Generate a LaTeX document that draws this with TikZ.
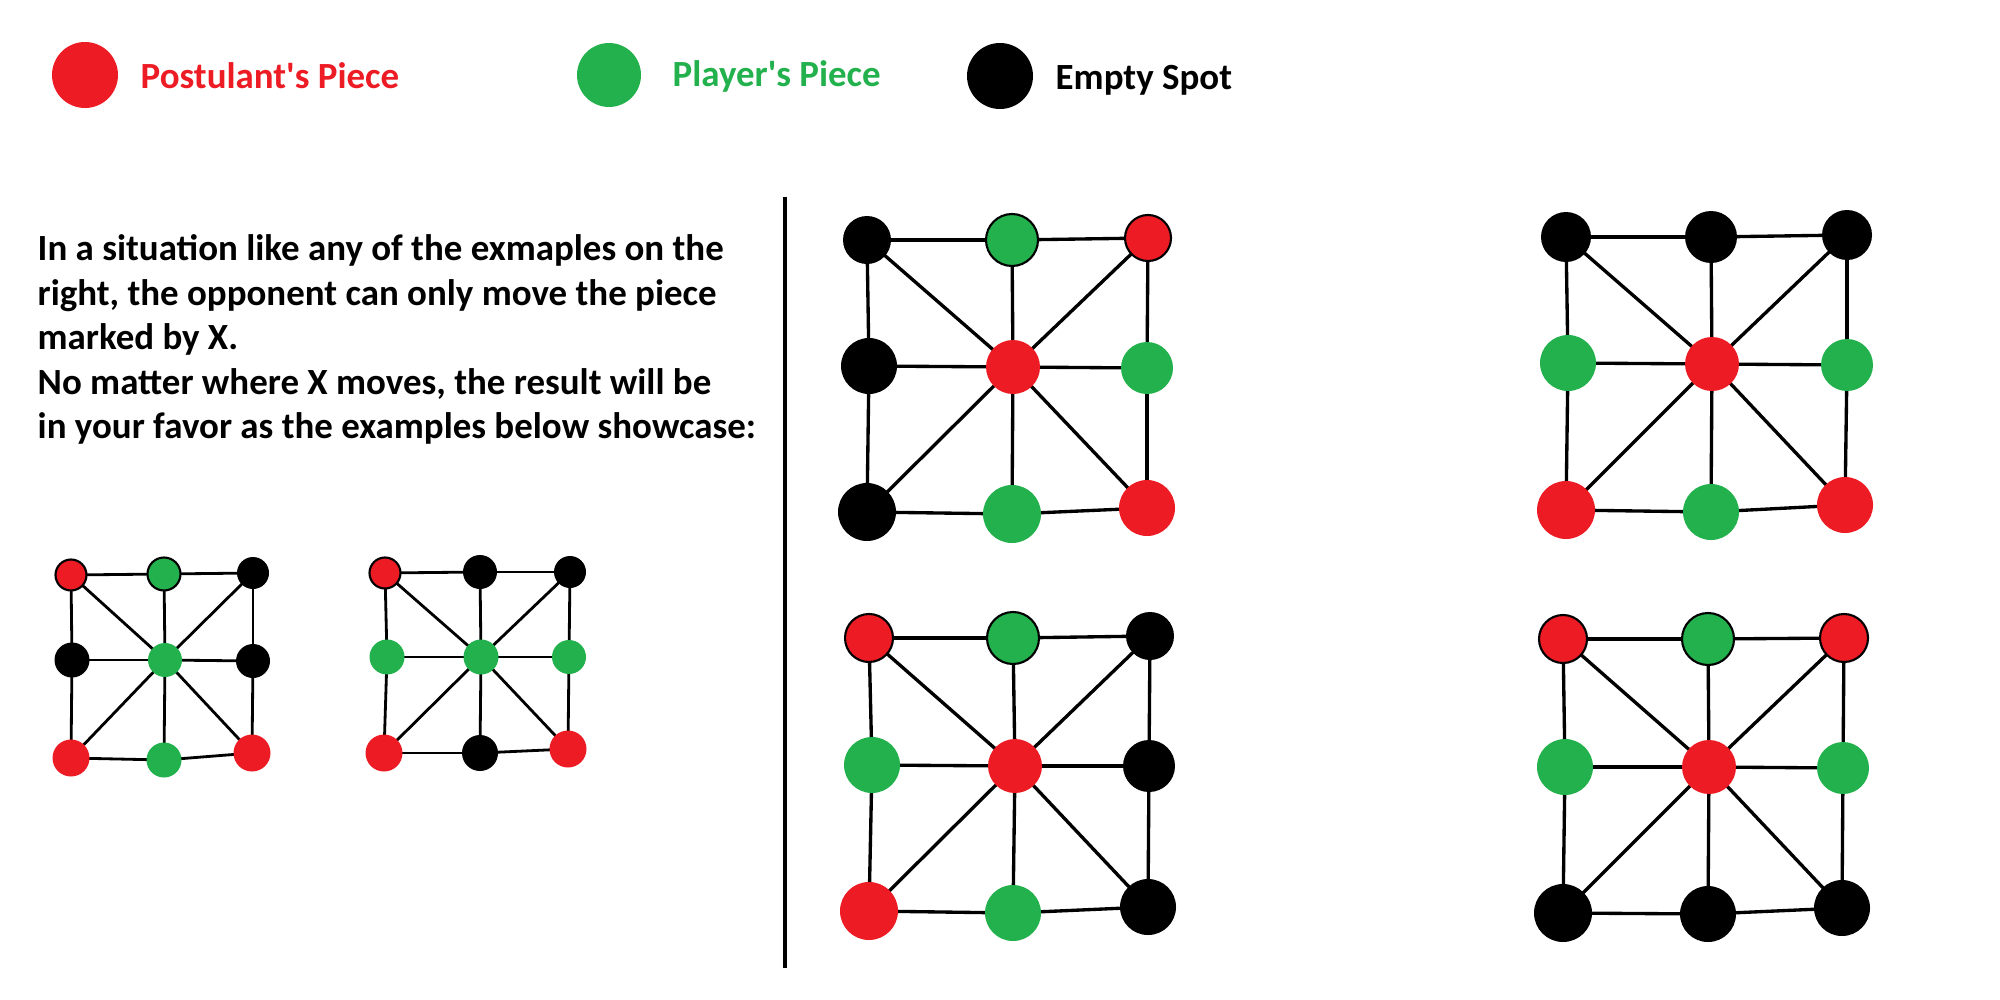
\documentclass[tikz,border=0pt]{standalone}
\usepackage{fontspec}
\setmainfont{Carlito}
\usetikzlibrary{backgrounds}
\definecolor{pred}{RGB}{237,28,36}
\definecolor{pgreen}{RGB}{34,177,76}
\newcommand{\boardedges}[2]{%
  \foreach \a/\b in {tl/tm,tm/tr,ml/c,c/mr,bl/bm,bm/br,tl/ml,ml/bl,tm/c,c/bm,tr/mr,mr/br,tl/c,c/br,tr/c,c/bl}
    {\draw[#2] (#1\a.center) -- (#1\b.center);}}
\begin{document}
\begin{tikzpicture}[x=0.01cm,y=-0.01cm,
  pc/.style={circle,inner sep=0pt,draw=none,minimum size=#1*0.01cm},
  R/.style={pc=#1,fill=pred},
  G/.style={pc=#1,fill=pgreen},
  K/.style={pc=#1,fill=black},
  ol/.style={draw=black,line width=0.6pt},
  edge/.style={line width=0.95pt,black},
  sedge/.style={line width=0.8pt,black},
  txt/.style={font=\fontsize{10.5pt}{12pt}\selectfont\bfseries,anchor=base west,inner sep=0pt}]
\useasboundingbox (0,0) rectangle (2000,1000);

% legend
\node[R=66] (legR) at (85,75) {};
\node[txt,text=pred] (legRt) at (140,88) {Postulant\textquotesingle s Piece};
\node[G=64] (legG) at (609,75) {};
\node[txt,text=pgreen] (legGt) at (672,87) {Player\textquotesingle s Piece};
\node[K=66] (legK) at (1000,76) {};
\node[txt,text=black] (legKt) at (1055,89) {Empty Spot};

% explanation
\node[txt] (p1) at (37,260) {In a situation like any of the exmaples on the};
\node[txt] (p2) at (37,305) {right, the opponent can only move the piece};
\node[txt] (p3) at (37,349) {marked by X.};
\node[txt] (p4) at (37,394) {No matter where X moves, the result will be};
\node[txt] (p5) at (37,438) {in your favor as the examples below showcase:};

% divider
\coordinate (divtop) at (785,197);
\coordinate (divbot) at (785,968);
\draw[line width=1.3pt] (divtop) -- (divbot);

% Board A (top-left big)
\node[K=48] (Atl) at (867,240) {};
\node[G=52,ol] (Atm) at (1012,240) {};
\node[R=46,ol] (Atr) at (1148,238) {};
\node[K=56] (Aml) at (869,366) {};
\node[R=54] (Ac) at (1013,367) {};
\node[G=52] (Amr) at (1147,368) {};
\node[K=58] (Abl) at (867,512) {};
\node[G=58] (Abm) at (1012,514) {};
\node[R=56] (Abr) at (1147,508) {};

% Board B (top-right big)
\node[K=50] (Btl) at (1566,237) {};
\node[K=52] (Btm) at (1711,237) {};
\node[K=50] (Btr) at (1847,235) {};
\node[G=56] (Bml) at (1568,363) {};
\node[R=54] (Bc) at (1712,364) {};
\node[G=52] (Bmr) at (1847,365) {};
\node[R=58] (Bbl) at (1566,510) {};
\node[G=56] (Bbm) at (1711,512) {};
\node[R=56] (Bbr) at (1845,505) {};

% Board C (bottom-left big)
\node[R=48,ol] (Ctl) at (869,638) {};
\node[G=52,ol] (Ctm) at (1013,638) {};
\node[K=48] (Ctr) at (1150,636) {};
\node[G=56] (Cml) at (872,765) {};
\node[R=54] (Cc) at (1015,766) {};
\node[K=52] (Cmr) at (1149,766) {};
\node[R=58] (Cbl) at (869,911) {};
\node[G=56] (Cbm) at (1013,913) {};
\node[K=56] (Cbr) at (1148,907) {};

% Board D (bottom-right big)
\node[R=48,ol] (Dtl) at (1563,639) {};
\node[G=52,ol] (Dtm) at (1708,639) {};
\node[R=48,ol] (Dtr) at (1844,638) {};
\node[G=56] (Dml) at (1565,767) {};
\node[R=54] (Dc) at (1709,767) {};
\node[G=52] (Dmr) at (1843,768) {};
\node[K=58] (Dbl) at (1563,913) {};
\node[K=56] (Dbm) at (1708,914) {};
\node[K=56] (Dbr) at (1842,908) {};

% Small board E
\node[R=31,ol] (Etl) at (71,575) {};
\node[G=33,ol] (Etm) at (164,574) {};
\node[K=32] (Etr) at (253,573) {};
\node[K=35] (Eml) at (72,660) {};
\node[G=34] (Ec) at (165,660) {};
\node[K=34] (Emr) at (253,661) {};
\node[R=37] (Ebl) at (71,758) {};
\node[G=35] (Ebm) at (164,760) {};
\node[R=37] (Ebr) at (252,753) {};

% Small board F
\node[R=31,ol] (Ftl) at (385,573) {};
\node[K=34] (Ftm) at (480,572) {};
\node[K=32] (Ftr) at (570,572) {};
\node[G=35] (Fml) at (387,657) {};
\node[G=35] (Fc) at (481,657) {};
\node[G=34] (Fmr) at (569,657) {};
\node[R=37] (Fbl) at (384,753) {};
\node[K=36] (Fbm) at (480,753) {};
\node[R=37] (Fbr) at (568,749) {};

\begin{scope}[on background layer]
  \boardedges{A}{edge}
  \boardedges{B}{edge}
  \boardedges{C}{edge}
  \boardedges{D}{edge}
  \boardedges{E}{sedge}
  \boardedges{F}{sedge}
\end{scope}
\end{tikzpicture}
\end{document}
